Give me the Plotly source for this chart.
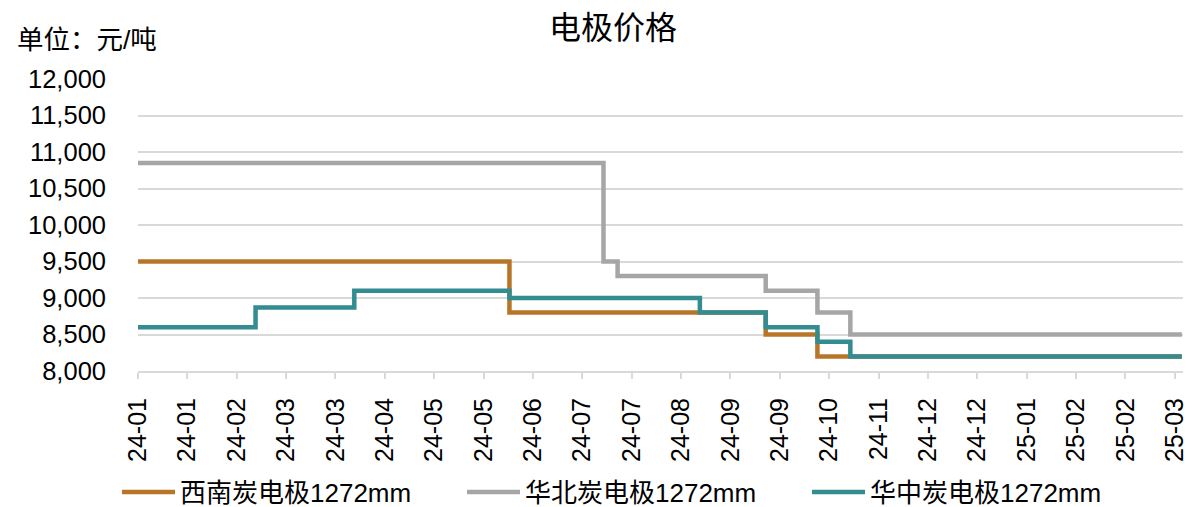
import plotly.graph_objects as go

# ---- data (step change points) ----
sw_dates = ["2024-01-01", "2024-06-07", "2024-09-24", "2024-10-16", "2025-03-20"]
sw_vals = [9500, 8800, 8500, 8200, 8200]

nc_dates = ["2024-01-01", "2024-07-17", "2024-07-23", "2024-09-24", "2024-10-16", "2024-10-30", "2025-03-20"]
nc_vals = [10850, 9500, 9300, 9100, 8800, 8500, 8500]

cc_dates = ["2024-01-01", "2024-02-20", "2024-04-02", "2024-06-07", "2024-08-27", "2024-09-24", "2024-10-16", "2024-10-30", "2025-03-20"]
cc_vals = [8600, 8870, 9100, 9000, 8800, 8600, 8400, 8200, 8200]

series_names = ["西南炭电极1272mm", "华北炭电极1272mm", "华中炭电极1272mm"]
colors = ["#B97527", "#A6A6A6", "#338C90"]

FONT = "Liberation Sans, Arial, Noto Sans CJK SC, sans-serif"

fig = go.Figure()
for name, xs, ys, c in zip(series_names, [sw_dates, nc_dates, cc_dates], [sw_vals, nc_vals, cc_vals], colors):
    fig.add_trace(go.Scatter(x=xs, y=ys, name=name, mode="lines",
                             line=dict(color=c, width=4.5, shape="hv")))

fig.update_layout(
    width=1192, height=507,
    margin=dict(l=138, r=4, t=79, b=136),
    paper_bgcolor="white", plot_bgcolor="white",
    font=dict(family=FONT, size=26, color="#000000"),
    showlegend=True,
    legend=dict(orientation="h", xref="container", yref="container",
                x=0.5323, xanchor="center", y=(507 - 492) / 507, yanchor="middle",
                font=dict(size=26), itemwidth=53, entrywidth=277, tracegroupgap=0),
)
fig.update_xaxes(
    type="date", range=["2024-01-01", "2025-03-20 12:00"],
    tick0="2024-01-01", dtick=21 * 86400000, tickformat="%y-%m",
    tickangle=-90, ticks="outside", ticklen=6, tickcolor="#D9D9D9", tickwidth=1.5,
    showline=True, linecolor="#D9D9D9", linewidth=2, showgrid=False,
    tickfont=dict(size=25), zeroline=False, ticklabelstandoff=9,
    ticklabeloverflow="allow",
)
fig.update_yaxes(
    range=[8000, 12000], dtick=500, tickformat=",",
    showgrid=True, gridcolor="#D9D9D9", gridwidth=1.5,
    showline=False, zeroline=False, ticks="", tickfont=dict(size=25.5),
    ticklabelstandoff=31,
)
fig.add_annotation(text="电极价格", xref="paper", yref="paper", x=(615 - 138) / 1050, y=1,
                   yshift=51, showarrow=False, font=dict(size=32), xanchor="center", yanchor="middle")
fig.add_annotation(text="单位：元/吨", xref="paper", yref="paper", x=-124 / 1050, y=1,
                   yshift=39, showarrow=False, font=dict(size=26.5), xanchor="left", yanchor="middle")

fig.write_html("out.html", config={"displayModeBar": False},
               post_script="document.body.style.margin='0';")
